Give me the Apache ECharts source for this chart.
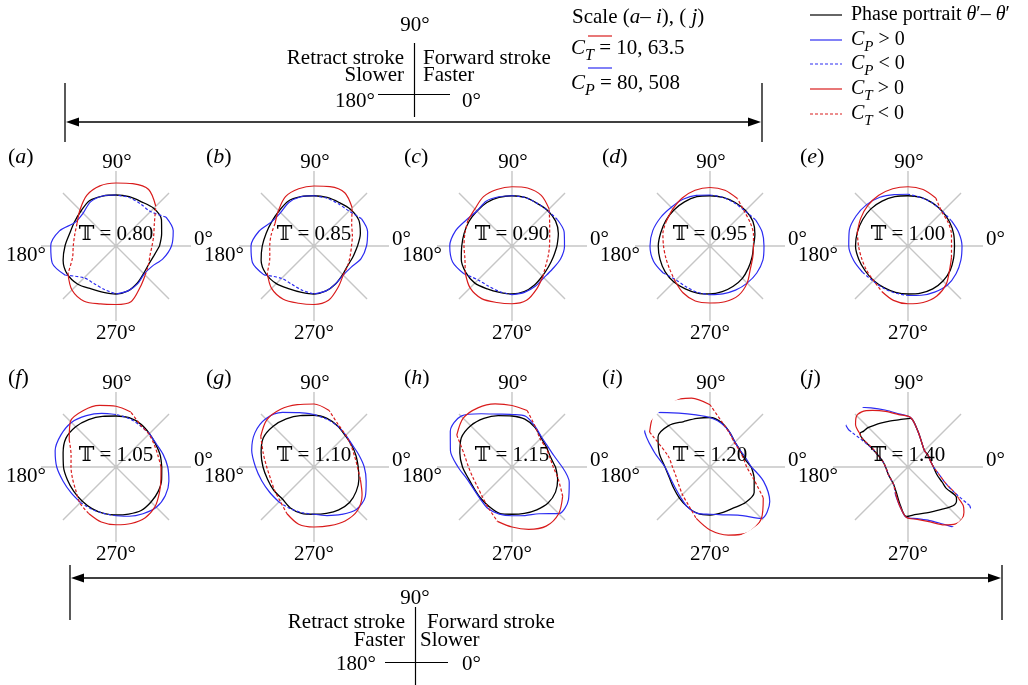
<!DOCTYPE html>
<html>
<head>
<meta charset="utf-8">
<title>Phase portraits</title>
<script src="https://cdn.jsdelivr.net/npm/echarts/dist/echarts.min.js"></script>
<style>
  html, body { margin: 0; padding: 0; background: #fff; }
  #chart { width: 1028px; height: 685px; }
</style>
</head>
<body>
<div id="chart"></div>
<script>
// Sample angles (degrees) for panels a–i
const angles = [0, 15, 30, 45, 60, 75, 90, 105, 120, 135, 150, 165,
                180, 195, 210, 225, 240, 255, 270, 285, 300, 315, 330, 345];
// Panel j has sharp hooks, so it is sampled more densely around them
const anglesJ = [0, 15, 30, 45, 60, 75, 87, 100, 112, 122, 130, 136, 141, 145, 148, 152, 160, 170,
                 185, 200, 215, 230, 245, 258, 268, 280, 292, 302, 310, 316, 321, 325, 328, 331, 336, 345];

const panelIds = ['a', 'b', 'c', 'd', 'e', 'f', 'g', 'h', 'i', 'j'];
const periodRatios = ['0.80', '0.85', '0.90', '0.95', '1.00', '1.05', '1.10', '1.15', '1.20', '1.40'];
const angleTickLabels = ['0°', '90°', '180°', '270°'];

// Phase portrait radius (normalised), one array per panel
const phaseA = [0.58,0.63,0.70,0.71,0.68,0.68,0.68,0.69,0.70,0.66,0.64,0.64,0.68,0.73,0.75,0.72,0.66,0.64,0.64,0.62,0.57,0.52,0.50,0.52];
const phaseB = [0.58,0.64,0.69,0.69,0.67,0.67,0.67,0.68,0.69,0.66,0.65,0.66,0.69,0.73,0.74,0.71,0.66,0.64,0.64,0.62,0.58,0.54,0.52,0.54];
const phaseC = [0.60,0.64,0.67,0.67,0.66,0.67,0.67,0.67,0.67,0.66,0.66,0.66,0.67,0.70,0.71,0.70,0.66,0.64,0.64,0.63,0.60,0.57,0.56,0.57];
const phaseD = [0.58,0.62,0.66,0.67,0.67,0.67,0.67,0.68,0.68,0.68,0.68,0.68,0.69,0.69,0.69,0.68,0.66,0.65,0.64,0.63,0.62,0.61,0.59,0.58];
const phaseE = [0.62,0.63,0.64,0.65,0.66,0.67,0.67,0.68,0.69,0.70,0.70,0.70,0.70,0.68,0.66,0.65,0.64,0.64,0.64,0.65,0.66,0.66,0.65,0.63];
const phaseF = [0.61,0.61,0.61,0.63,0.66,0.68,0.68,0.70,0.73,0.76,0.77,0.73,0.70,0.67,0.65,0.64,0.64,0.64,0.64,0.65,0.67,0.66,0.65,0.63];
const phaseG = [0.59,0.58,0.58,0.59,0.63,0.67,0.69,0.71,0.74,0.77,0.78,0.73,0.68,0.64,0.62,0.60,0.63,0.64,0.63,0.64,0.66,0.67,0.65,0.62];
const phaseH = [0.58,0.53,0.53,0.55,0.61,0.66,0.68,0.71,0.75,0.78,0.78,0.72,0.66,0.60,0.58,0.59,0.61,0.64,0.63,0.64,0.66,0.68,0.67,0.63];
const phaseI = [0.55,0.47,0.46,0.47,0.53,0.61,0.66,0.67,0.70,0.78,0.80,0.70,0.60,0.56,0.56,0.58,0.61,0.64,0.64,0.63,0.63,0.67,0.68,0.61];
const phaseJ = [0.34,0.31,0.31,0.31,0.37,0.50,0.65,0.64,0.66,0.69,0.72,0.75,0.76,0.78,0.72,0.56,0.41,0.33,
                0.29,0.28,0.28,0.30,0.37,0.51,0.66,0.64,0.66,0.69,0.73,0.77,0.80,0.79,0.76,0.58,0.50,0.40];

// Power coefficient C_P (signed: negative values are drawn dashed)
const cpA = [0.74,0.79,0.77,-0.65,-0.65,-0.67,0.68,0.69,0.68,0.62,0.63,0.78,0.87,0.88,0.78,-0.60,-0.58,-0.60,0.64,0.62,0.58,0.53,0.55,0.65];
const cpB = [0.70,0.74,0.73,-0.66,-0.65,-0.66,0.67,0.68,0.67,0.63,0.65,0.76,0.84,0.85,0.77,-0.61,-0.59,-0.61,0.64,0.62,0.58,0.55,0.57,0.65];
const cpC = [0.70,0.72,0.70,-0.67,-0.66,-0.67,0.67,0.68,0.69,0.66,0.70,0.78,0.83,0.82,0.74,-0.64,-0.62,-0.63,0.65,0.64,0.62,0.60,0.62,0.67];
const cpD = [0.72,0.72,0.70,-0.66,-0.66,-0.67,0.68,0.70,0.72,0.73,0.76,0.79,0.80,0.78,0.72,-0.64,-0.63,-0.64,0.65,0.66,0.68,0.70,0.72,0.73];
const cpE = [0.72,0.70,0.67,-0.65,-0.66,-0.67,0.69,0.71,0.75,0.78,0.80,0.81,0.79,0.75,0.70,-0.66,-0.65,-0.65,0.66,0.68,0.71,0.74,0.74,0.73];
const cpF = [0.69,0.65,0.62,0.63,-0.64,-0.67,0.70,0.74,0.79,0.84,0.85,0.84,0.79,0.73,0.69,0.67,-0.65,-0.64,0.65,0.68,0.72,0.76,0.76,0.73];
const cpG = [0.67,0.62,0.59,0.60,-0.63,-0.66,0.70,0.75,0.84,0.91,0.91,0.86,0.78,0.72,0.68,0.66,-0.64,-0.63,0.63,0.67,0.73,0.80,0.79,0.72];
const cpH = [0.67,0.58,0.55,0.56,0.62,0.70,0.70,0.73,0.82,0.96,0.95,0.85,0.72,0.62,0.59,0.60,0.64,0.65,0.65,0.67,0.72,0.88,0.87,0.79];
const cpI = [0.55,0.49,0.46,0.47,0.53,0.60,0.66,0.72,0.83,1.03,1.01,0.77,0.60,0.55,0.54,0.56,0.61,0.64,0.63,0.66,0.74,0.97,0.92,0.74];
const cpJ = [0.34,0.31,0.31,0.31,0.37,0.50,0.66,0.72,0.82,0.93,1.04,1.08,1.06,1.02,0.93,-0.56,-0.41,-0.33,
             -0.29,-0.28,-0.28,-0.30,0.40,0.53,0.67,0.70,0.77,0.90,1.06,1.11,1.08,1.03,0.97,-0.72,-0.56,-0.44];

// Thrust coefficient C_T (signed: negative values are drawn dashed)
const ctA = [-0.48,-0.52,-0.59,0.75,0.87,0.86,0.84,0.83,0.78,0.68,0.60,-0.57,-0.57,-0.60,0.74,0.83,0.85,0.80,0.78,0.77,0.64,0.55,-0.50,-0.47];
const ctB = [-0.50,-0.53,-0.58,0.72,0.82,0.82,0.80,0.79,0.76,0.67,0.60,-0.59,-0.59,-0.61,0.72,0.80,0.82,0.79,0.78,0.75,0.64,0.55,-0.52,-0.50];
const ctC = [-0.50,-0.52,-0.58,0.70,0.78,0.80,0.79,0.78,0.76,0.70,0.68,-0.65,-0.64,-0.65,0.72,0.79,0.81,0.78,0.77,0.75,0.66,0.58,-0.52,-0.50];
const ctD = [0.58,-0.60,-0.62,-0.65,0.73,0.77,0.78,0.77,0.74,0.70,0.67,-0.65,-0.62,-0.61,-0.62,0.66,0.72,0.76,0.76,0.77,0.76,0.70,0.62,0.59];
const ctE = [-0.58,-0.60,-0.62,-0.64,0.74,0.78,0.79,0.79,0.78,0.76,0.73,0.70,-0.66,-0.64,-0.64,-0.65,0.70,0.75,0.77,0.78,0.77,0.72,0.64,0.60];
const ctF = [0.60,-0.58,-0.59,-0.62,-0.65,0.76,0.81,0.85,0.87,0.86,0.72,-0.62,-0.60,-0.60,-0.62,-0.68,0.72,0.76,0.77,0.78,0.78,0.74,0.67,0.62];
const ctG = [-0.58,-0.56,-0.57,-0.60,-0.65,0.78,0.84,0.86,0.89,0.89,0.82,-0.70,-0.63,-0.60,-0.61,-0.64,0.72,0.79,0.80,0.81,0.83,0.82,0.74,0.64];
const ctH = [-0.55,-0.52,-0.52,-0.53,-0.62,0.78,0.82,0.87,0.91,0.92,0.85,-0.66,-0.58,-0.54,-0.53,-0.56,-0.63,0.75,0.80,0.86,0.91,0.88,0.78,-0.64];
const ctI = [-0.49,-0.46,-0.45,-0.46,-0.52,-0.62,0.83,0.95,1.02,1.04,0.93,-0.58,-0.50,-0.47,-0.48,-0.52,-0.58,0.71,0.84,0.94,1.01,0.97,0.82,-0.60];
const ctJ = [0.34,0.31,0.31,0.31,0.37,0.50,0.66,0.71,0.80,0.89,0.96,0.96,0.90,0.79,-0.72,-0.54,-0.41,-0.33,
             -0.29,-0.28,-0.28,-0.30,0.39,0.53,0.67,0.71,0.79,0.91,0.99,1.00,0.96,0.90,0.80,-0.72,-0.56,-0.44];

const panelAngles = [angles, angles, angles, angles, angles, angles, angles, angles, angles, anglesJ];
const phaseSets = [phaseA, phaseB, phaseC, phaseD, phaseE, phaseF, phaseG, phaseH, phaseI, phaseJ];
const cpSets = [cpA, cpB, cpC, cpD, cpE, cpF, cpG, cpH, cpI, cpJ];
const ctSets = [ctA, ctB, ctC, ctD, ctE, ctF, ctG, ctH, ctI, ctJ];

// ---- layout and style ----
const SERIF = '"Liberation Serif", "DejaVu Serif", serif';
const FS = 21;
const BLUE = '#2c2cf2';
const RED = '#d91c1c';
const GRID = '#c6c6c6';
const DASH = [3, 2];
const colX = [116, 314, 512, 710, 908];
const rowY = [246, 467];
const R = 75;

const measureCtx = document.createElement('canvas').getContext('2d');
function textWidth(str, size, italic) {
  measureCtx.font = (italic ? 'italic ' : '') + size + 'px ' + SERIF;
  return measureCtx.measureText(str).width;
}

function txt(x, y, text, o) {
  o = o || {};
  return {
    type: 'text', x: x, y: y, z: 100, silent: true,
    style: {
      text: text, fill: '#000', fontSize: o.size || FS, fontFamily: SERIF,
      fontStyle: o.italic ? 'italic' : 'normal',
      align: o.align || 'left', verticalAlign: 'middle'
    }
  };
}

// Runs of text in one line: parts = [[text, kind]], kind n = upright, i = italic, s = italic subscript
function inline(x, y, parts, size) {
  size = size || FS;
  const out = [];
  let cx = x;
  parts.forEach(function (p) {
    const kind = p[1] || 'n';
    const sz = kind === 's' ? Math.round(size * 0.74) : size;
    const it = kind !== 'n';
    const dy = kind === 's' ? size * 0.36 : 0;
    out.push(txt(cx, y + dy, p[0], { size: sz, italic: it }));
    if (p[2]) out.push(txt(cx + textWidth(p[0], sz, it) * 0.62, y - size * 0.55, p[2], { size: sz, align: 'center' }));
    cx += textWidth(p[0], sz, it);
  });
  return out;
}

function seg(x1, y1, x2, y2, color, width, dash) {
  return {
    type: 'line', z: 90, silent: true,
    shape: { x1: x1, y1: y1, x2: x2, y2: y2 },
    style: { stroke: color, lineWidth: width, lineDash: dash || null }
  };
}

function arrowHead(x, y, dir) {
  return {
    type: 'polygon', z: 90, silent: true,
    shape: { points: [[x, y], [x - dir * 13, y - 4.5], [x - dir * 13, y + 4.5]] },
    style: { fill: '#000' }
  };
}

// Split a signed closed curve into solid (positive) and dashed (negative) runs
function splitRuns(vals, angs) {
  const n = vals.length;
  const pos = vals.map(function (v) { return v >= 0; });
  const pt = function (k) { const m = ((k % n) + n) % n; return [Math.abs(vals[m]), angs[m]]; };
  let start = -1;
  for (let k = 0; k < n; k++) {
    if (pos[k] !== pos[(k - 1 + n) % n]) { start = k; break; }
  }
  if (start < 0) {
    const pts = [];
    for (let k = 0; k <= n; k++) pts.push(pt(k));
    return [{ positive: pos[0], pts: pts }];
  }
  const runs = [];
  let cur = [start];
  for (let k = start + 1; k < start + n; k++) {
    if (pos[k % n] === pos[cur[0] % n]) cur.push(k);
    else { runs.push(cur); cur = [k]; }
  }
  runs.push(cur);
  return runs.map(function (run) {
    const positive = pos[run[0] % n];
    const idx = positive ? run.slice() : [run[0] - 1].concat(run, [run[run.length - 1] + 1]);
    return { positive: positive, pts: idx.map(pt) };
  });
}

const polar = [], angleAxis = [], radiusAxis = [], series = [], graphic = [];

panelIds.forEach(function (id, i) {
  const cx = colX[i % 5];
  const cy = rowY[Math.floor(i / 5)];

  polar.push({ center: [cx, cy], radius: R });
  angleAxis.push({
    polarIndex: i, type: 'value', min: 0, max: 360, interval: 45,
    startAngle: 0, clockwise: false,
    axisLine: { show: false }, axisTick: { show: false }, axisLabel: { show: false },
    splitLine: { show: true, lineStyle: { color: GRID, width: 1.4 } }
  });
  radiusAxis.push({
    polarIndex: i, type: 'value', min: 0, max: 1,
    axisLine: { show: false }, axisTick: { show: false }, axisLabel: { show: false },
    splitLine: { show: false }
  });

  const curves = [
    { vals: phaseSets[i], color: '#000', width: 1.3, z: 3 },
    { vals: cpSets[i], color: BLUE, width: 1.2, z: 4 },
    { vals: ctSets[i], color: RED, width: 1.2, z: 5 }
  ];
  curves.forEach(function (c) {
    splitRuns(c.vals, panelAngles[i]).forEach(function (run) {
      series.push({
        type: 'line', coordinateSystem: 'polar', polarIndex: i,
        data: run.pts, showSymbol: false, symbol: 'none', smooth: 0.3,
        clip: false, silent: true, animation: false, z: c.z,
        lineStyle: { color: c.color, width: c.width, type: run.positive ? 'solid' : DASH }
      });
    });
  });

  // panel tag, angle labels and period ratio
  graphic.push.apply(graphic, inline(cx - 108, cy - 89, [['('], [id, 'i'], [')']], 22));
  graphic.push(txt(cx + 1, cy - 84, angleTickLabels[1], { align: 'center' }));
  graphic.push(txt(cx + 78, cy - 7, angleTickLabels[0], { align: 'left' }));
  graphic.push(txt(cx - 70, cy + 9, angleTickLabels[2], { align: 'right' }));
  graphic.push(txt(cx, cy + 87, angleTickLabels[3], { align: 'center' }));
  graphic.push(txt(cx, cy - 12, '\u{1D54B} = ' + periodRatios[i], { align: 'center', size: 21 }));
});

// ---- upper stroke key ----
graphic.push(txt(415, 25, '90°', { align: 'center' }));
graphic.push(seg(414.5, 43, 414.5, 117, '#000', 1.2));
graphic.push(seg(378, 94.5, 450, 94.5, '#000', 1.2));
graphic.push(txt(404, 58, 'Retract stroke', { align: 'right' }));
graphic.push(txt(404, 75, 'Slower', { align: 'right' }));
graphic.push(txt(423, 58, 'Forward stroke', { align: 'left' }));
graphic.push(txt(423, 75, 'Faster', { align: 'left' }));
graphic.push(txt(375, 101, '180°', { align: 'right' }));
graphic.push(txt(462, 101, '0°', { align: 'left' }));

// upper range arrow (panels a–e)
graphic.push(seg(65, 83, 65, 142, '#000', 1.3));
graphic.push(seg(762, 83, 762, 142, '#000', 1.3));
graphic.push(seg(72, 122, 755, 122, '#000', 1.3));
graphic.push(arrowHead(66, 122, -1));
graphic.push(arrowHead(761, 122, 1));

// ---- lower stroke key ----
graphic.push(txt(415, 598, '90°', { align: 'center' }));
graphic.push(seg(415.5, 607, 415.5, 685, '#000', 1.2));
graphic.push(seg(385, 662.5, 448, 662.5, '#000', 1.2));
graphic.push(txt(405, 622, 'Retract stroke', { align: 'right' }));
graphic.push(txt(405, 640, 'Faster', { align: 'right' }));
graphic.push(txt(427, 622, 'Forward stroke', { align: 'left' }));
graphic.push(txt(420, 640, 'Slower', { align: 'left' }));
graphic.push(txt(376, 664, '180°', { align: 'right' }));
graphic.push(txt(462, 664, '0°', { align: 'left' }));

// lower range arrow (panels f–j)
graphic.push(seg(70, 565, 70, 620, '#000', 1.3));
graphic.push(seg(1002, 565, 1002, 620, '#000', 1.3));
graphic.push(seg(77, 578, 995, 578, '#000', 1.3));
graphic.push(arrowHead(71, 578, -1));
graphic.push(arrowHead(1001, 578, 1));

// ---- scale note ----
graphic.push.apply(graphic, inline(572, 17, [['Scale ('], ['a', 'i'], ['– '], ['i', 'i'], ['), ( '], ['j', 'i'], [')']]));
graphic.push(seg(588, 36, 612, 36, RED, 1.2));
graphic.push.apply(graphic, inline(571, 48, [['C', 'i'], ['T', 's'], [' = 10, 63.5']]));
graphic.push(seg(588, 68, 612, 68, BLUE, 1.2));
graphic.push.apply(graphic, inline(571, 83, [['C', 'i'], ['P', 's'], [' = 80, 508']]));

// ---- legend ----
const legendRows = [
  { y: 15, color: '#000', dash: null, parts: [['Phase portrait '], ['θ', 'i', '˙'], ['′– '], ['θ', 'i'], ['′']] },
  { y: 40, color: BLUE, dash: null, parts: [['C', 'i'], ['P', 's'], [' > 0']] },
  { y: 64, color: BLUE, dash: DASH, parts: [['C', 'i'], ['P', 's'], [' < 0']] },
  { y: 89, color: RED, dash: null, parts: [['C', 'i'], ['T', 's'], [' > 0']] },
  { y: 114, color: RED, dash: DASH, parts: [['C', 'i'], ['T', 's'], [' < 0']] }
];
legendRows.forEach(function (row) {
  graphic.push(seg(810, row.y, 842, row.y, row.color, 1.2, row.dash));
  graphic.push.apply(graphic, inline(851, row.y, row.parts, 20));
});

const chart = echarts.init(document.getElementById('chart'), null, { renderer: 'canvas', width: 1028, height: 685 });
chart.setOption({
  backgroundColor: '#fff',
  animation: false,
  polar: polar,
  angleAxis: angleAxis,
  radiusAxis: radiusAxis,
  series: series,
  graphic: { elements: graphic }
});
</script>
</body>
</html>
